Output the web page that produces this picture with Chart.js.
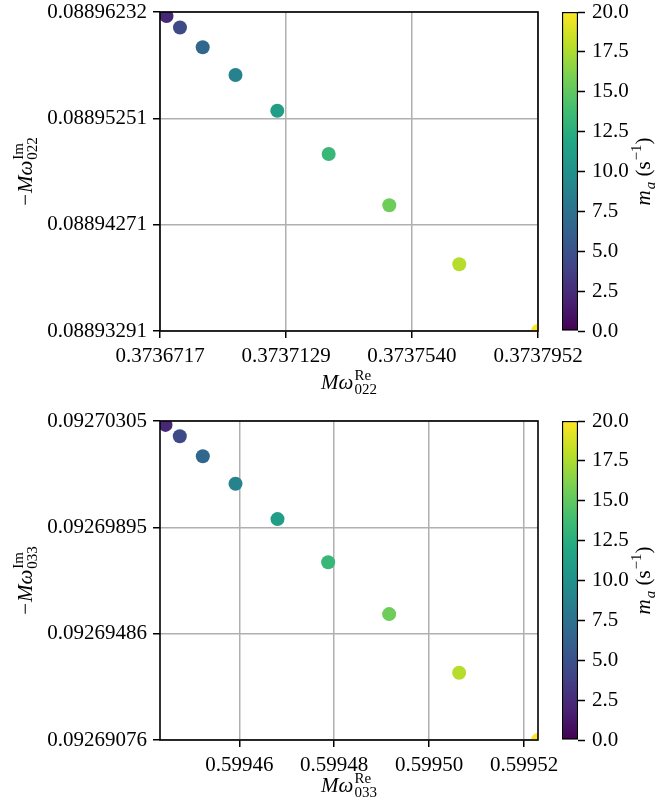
<!DOCTYPE html>
<html>
<head>
<meta charset="utf-8">
<script src="https://cdn.jsdelivr.net/npm/chart.js@4.4.0/dist/chart.umd.min.js"></script>
<style>
html,body{margin:0;padding:0;background:#fff;}
#wrap{position:relative;width:659px;height:803px;overflow:hidden;background:#fff;}
canvas{position:absolute;}
</style>
</head>
<body>
<div id="wrap">
  <canvas id="main1" width="659" height="409" style="left:0;top:0;width:659px;height:409px;"></canvas>
  <canvas id="cb1" width="119" height="409" style="left:540px;top:0;width:119px;height:409px;"></canvas>
  <canvas id="main2" width="659" height="394" style="left:0;top:409px;width:659px;height:394px;"></canvas>
  <canvas id="cb2" width="119" height="394" style="left:540px;top:409px;width:119px;height:394px;"></canvas>
</div>
<script>
// ---------------- DATA ----------------
const massValues = [2.22, 4.44, 6.67, 8.89, 11.11, 13.33, 15.56, 17.78, 20.0];

const re022 = [0.37367382, 0.37367823, 0.37368565, 0.37369637, 0.37371002, 0.37372681, 0.37374661, 0.37376948, 0.3737952];
const im022 = [0.08896195, 0.08896089, 0.08895907, 0.08895651, 0.08895322, 0.08894923, 0.08894450, 0.08893906, 0.08893291];

const re033 = [0.59944445, 0.59944746, 0.59945231, 0.59945920, 0.59946805, 0.59947872, 0.59949157, 0.59950632, 0.59952293];
const im033 = [0.09270290, 0.09270246, 0.09270169, 0.09270063, 0.09269927, 0.09269761, 0.09269561, 0.09269335, 0.09269076];

const xRange022 = [0.3736717, 0.3737952];
const xTicks022 = [0.3736717, 0.37371287, 0.37375403, 0.3737952];
const xTickLabels022 = ['0.3736717', '0.3737129', '0.3737540', '0.3737952'];
const yRange022 = [0.08893291, 0.08896232];
const yTicks022 = [0.08893291, 0.08894271, 0.08895251, 0.08896232];
const yTickLabels022 = ['0.08893291', '0.08894271', '0.08895251', '0.08896232'];

const xRange033 = [0.59944329, 0.59952293];
const xTicks033 = [0.59946, 0.59948, 0.59950, 0.59952];
const xTickLabels033 = ['0.59946', '0.59948', '0.59950', '0.59952'];
const yRange033 = [0.09269076, 0.09270305];
const yTicks033 = [0.09269076, 0.09269486, 0.09269895, 0.09270305];
const yTickLabels033 = ['0.09269076', '0.09269486', '0.09269895', '0.09270305'];

const cbRange = [0, 20];
const cbTicks = [0, 2.5, 5, 7.5, 10, 12.5, 15, 17.5, 20];
const cbTickLabels = ['0.0', '2.5', '5.0', '7.5', '10.0', '12.5', '15.0', '17.5', '20.0'];

// ---------------- STYLE ----------------
const SERIF = "'Liberation Serif', 'DejaVu Serif', serif";
const FS = 21, SFS = 15;
const VIRIDIS = ['#440154','#482475','#414487','#355f8d','#2a788e','#21918c','#22a884','#44bf70','#7ad151','#bddf26','#fde725'];

function hex2rgb(h){return [parseInt(h.slice(1,3),16),parseInt(h.slice(3,5),16),parseInt(h.slice(5,7),16)];}
function viridis(t){
  t = Math.max(0, Math.min(1, t));
  const p = t * (VIRIDIS.length - 1);
  const i = Math.min(Math.floor(p), VIRIDIS.length - 2);
  const f = p - i;
  const a = hex2rgb(VIRIDIS[i]), b = hex2rgb(VIRIDIS[i+1]);
  const c = a.map((v,k)=>Math.round(v + (b[k]-v)*f));
  return `rgb(${c[0]},${c[1]},${c[2]})`;
}
const pointColors = massValues.map(m => viridis((m - cbRange[0])/(cbRange[1]-cbRange[0])));

// draw math-like label: segs = [{t, it, sz, dy}] or {sup, sub}
function drawMath(ctx, segs, cx, cy, rot){
  ctx.save();
  ctx.translate(cx, cy);
  ctx.rotate(rot || 0);
  ctx.fillStyle = '#000';
  ctx.textBaseline = 'alphabetic';
  ctx.textAlign = 'left';
  const font = (it, sz) => `${it ? 'italic ' : ''}${sz}px ${SERIF}`;
  const widths = segs.map(s => {
    if (s.sup !== undefined || s.sub !== undefined) {
      let w = 0;
      if (s.sup) { ctx.font = font(s.supIt, SFS); w = Math.max(w, ctx.measureText(s.sup).width); }
      if (s.sub) { ctx.font = font(s.subIt, SFS); w = Math.max(w, ctx.measureText(s.sub).width); }
      return w + (s.kern || 1);
    }
    ctx.font = font(s.it, s.sz || FS);
    return ctx.measureText(s.t).width + (s.kern || 0);
  });
  const total = widths.reduce((a,b)=>a+b,0);
  let x = -total/2;
  segs.forEach((s,i) => {
    if (s.sup !== undefined || s.sub !== undefined) {
      const k = s.kern || 1;
      if (s.sup) { ctx.font = font(s.supIt, SFS); ctx.fillText(s.sup, x + k, -9); }
      if (s.sub) { ctx.font = font(s.subIt, SFS); ctx.fillText(s.sub, x + k, 5); }
    } else {
      ctx.font = font(s.it, s.sz || FS);
      ctx.fillText(s.t, x, s.dy || 0);
    }
    x += widths[i];
  });
  ctx.restore();
}

const frameAndLabels = {
  id: 'frameAndLabels',
  afterDatasetsDraw(chart, args, opts) {
    const {ctx, chartArea: a} = chart;
    ctx.save();
    ctx.strokeStyle = '#000';
    ctx.lineWidth = 1.6;
    ctx.strokeRect(a.left, a.top, a.right - a.left, a.bottom - a.top);
    ctx.restore();
  },
  afterDraw(chart, args, opts) {
    const {ctx, chartArea: a} = chart;
    if (opts.xLabel) drawMath(ctx, opts.xLabel, (a.left + a.right)/2, opts.xLabelY, 0);
    if (opts.yLabel) drawMath(ctx, opts.yLabel, opts.yLabelX, (a.top + a.bottom)/2, -Math.PI/2);
  }
};

function makeMain(id, xs, ys, xRange, xTicks, xLabels, yRange, yTicks, yLabels, canvasH, xLabelY, mode) {
  const tickFont = {family: SERIF, size: FS, lineHeight: 1};
  return new Chart(document.getElementById(id), {
    type: 'scatter',
    data: {
      datasets: [{
        data: xs.map((x, i) => ({x: x, y: ys[i]})),
        backgroundColor: pointColors,
        borderWidth: 0,
        pointRadius: 7,
        pointHoverRadius: 7,
        clip: 0
      }]
    },
    options: {
      responsive: false,
      animation: false,
      events: [],
      layout: {padding: {left: 0, top: 12, right: 121, bottom: 0}},
      plugins: {
        legend: {display: false},
        tooltip: {enabled: false},
        frameAndLabels: {
          xLabel: [{t: 'Mω', it: true}, {sup: 'Re', sub: mode, kern: 1}],
          xLabelY: xLabelY,
          yLabel: [{t: '−', kern: 1}, {t: 'Mω', it: true}, {sup: 'Im', sub: mode, kern: 1}],
          yLabelX: 32
        }
      },
      scales: {
        x: {
          type: 'linear',
          min: xRange[0], max: xRange[1],
          afterBuildTicks: s => { s.ticks = xTicks.map(v => ({value: v})); },
          afterFit: s => { s.height = canvasH - 331; },
          ticks: {callback: (v, i) => xLabels[i], font: tickFont, color: '#000', padding: 8, maxRotation: 0, autoSkip: false},
          grid: {color: '#b0b0b0', lineWidth: 1.5, drawTicks: true, tickLength: 7, tickColor: '#000', tickWidth: 1.5},
          border: {display: false}
        },
        y: {
          type: 'linear',
          min: yRange[0], max: yRange[1],
          afterBuildTicks: s => { s.ticks = yTicks.map(v => ({value: v})); },
          afterFit: s => { s.width = 160; s.paddingTop = 0; s.paddingBottom = 0; },
          ticks: {callback: (v, i) => yLabels[i], font: tickFont, color: '#000', padding: 6, autoSkip: false},
          grid: {color: '#b0b0b0', lineWidth: 1.5, drawTicks: true, tickLength: 7, tickColor: '#000', tickWidth: 1.5},
          border: {display: false}
        }
      }
    },
    plugins: [frameAndLabels]
  });
}

const cbPlugin = {
  id: 'cbLabel',
  afterDraw(chart) {
    const {ctx, chartArea: a} = chart;
    drawMath(ctx, [
      {t: 'm', it: true},
      {sub: 'a', subIt: true, kern: 0},
      {t: ' (s'},
      {sup: '−1', kern: 0},
      {t: ')'}
    ], 110, (a.top + a.bottom)/2, -Math.PI/2);
  }
};

function makeCb(id, canvasH) {
  return new Chart(document.getElementById(id), {
    type: 'bar',
    data: {
      labels: ['m_a'],
      datasets: [{
        data: [[cbRange[0], cbRange[1]]],
        backgroundColor: (c) => {
          const a = c.chart.chartArea;
          if (!a) return VIRIDIS[5];
          const g = c.chart.ctx.createLinearGradient(0, a.bottom, 0, a.top);
          VIRIDIS.forEach((col, i) => g.addColorStop(i/(VIRIDIS.length-1), col));
          return g;
        },
        borderColor: '#000',
        borderWidth: 1.5,
        borderSkipped: false,
        barPercentage: 1,
        categoryPercentage: 1
      }]
    },
    options: {
      responsive: false,
      animation: false,
      events: [],
      layout: {padding: {left: 22, top: 12, right: 0, bottom: canvasH - 331}},
      plugins: {legend: {display: false}, tooltip: {enabled: false}},
      scales: {
        x: {display: false},
        y: {
          position: 'right',
          min: cbRange[0], max: cbRange[1],
          afterBuildTicks: s => { s.ticks = cbTicks.map(v => ({value: v})); },
          afterFit: s => { s.width = 81; s.paddingTop = 0; s.paddingBottom = 0; },
          ticks: {callback: (v, i) => cbTickLabels[i], font: {family: SERIF, size: FS, lineHeight: 1}, color: '#000', padding: 7, autoSkip: false},
          grid: {drawOnChartArea: false, drawTicks: true, tickLength: 7, tickColor: '#000', tickWidth: 1.5},
          border: {display: false}
        }
      }
    },
    plugins: [cbPlugin]
  });
}

makeMain('main1', re022, im022, xRange022, xTicks022, xTickLabels022, yRange022, yTicks022, yTickLabels022, 409, 389, '022');
makeMain('main2', re033, im033, xRange033, xTicks033, xTickLabels033, yRange033, yTicks033, yTickLabels033, 394, 383, '033');
makeCb('cb1', 409);
makeCb('cb2', 394);
</script>
</body>
</html>
